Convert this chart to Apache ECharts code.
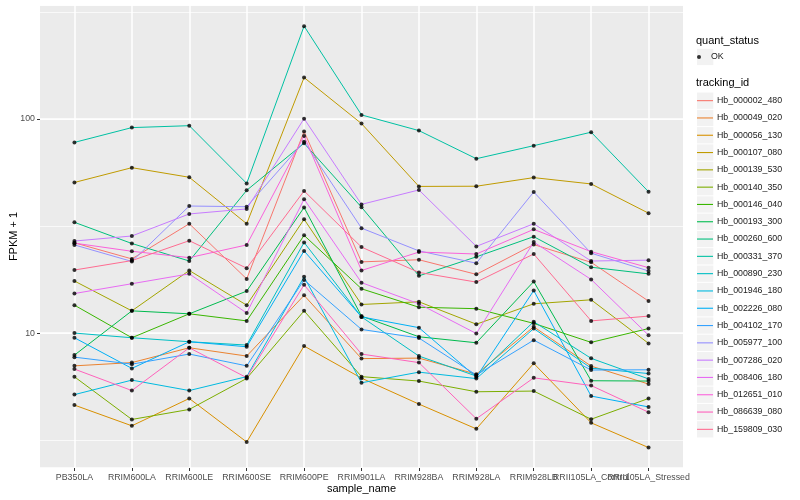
<!DOCTYPE html>
<html><head><meta charset="utf-8">
<script src="https://cdn.jsdelivr.net/npm/echarts@6/dist/echarts.min.js"></script>
<style>html,body{margin:0;padding:0;background:#fff}#c{width:800px;height:500px}</style>
</head><body><div id="c"></div><script>
const categories = ["PB350LA","RRIM600LA","RRIM600LE","RRIM600SE","RRIM600PE","RRIM901LA","RRIM928BA","RRIM928LA","RRIM928LB","RRII105LA_Control","RRII105LA_Stressed"];
const trackingIds = ["Hb_000002_480","Hb_000049_020","Hb_000056_130","Hb_000107_080","Hb_000139_530","Hb_000140_350","Hb_000146_040","Hb_000193_300","Hb_000260_600","Hb_000331_370","Hb_000890_230","Hb_001946_180","Hb_002226_080","Hb_004102_170","Hb_005977_100","Hb_007286_020","Hb_008406_180","Hb_012651_010","Hb_086639_080","Hb_159809_030"];
const colors = ["#F8766D","#EA8331","#D89000","#C09B00","#A3A500","#7CAE00","#39B600","#00BB4E","#00BF7D","#00C1A3","#00BFC4","#00BAE0","#00B0F6","#35A2FF","#9590FF","#C77CFF","#E76BF3","#FA62DB","#FF62BC","#FF6C91"];

const hb_000002_480 = [26.4, 22.2, 32.4, 17.9, 87.4, 21.5, 22.0, 18.8, 25.9, 21.4, 14.1];
const hb_000049_020 = [7.03, 7.28, 8.54, 7.81, 15.0, 7.60, 7.64, 6.43, 10.7, 7.01, 5.78];
const hb_000056_130 = [4.61, 3.69, 4.95, 3.10, 8.70, 6.16, 4.66, 3.57, 7.22, 3.81, 2.92];
const hb_000107_080 = [50.5, 59.2, 53.4, 32.4, 156.0, 95.1, 48.4, 48.5, 53.2, 49.7, 36.3];
const hb_000139_530 = [17.5, 12.7, 19.6, 13.5, 34.0, 13.6, 14.0, 11.0, 13.7, 14.3, 8.95];
const hb_000140_350 = [6.25, 3.95, 4.40, 6.14, 12.7, 6.26, 5.97, 5.32, 5.36, 3.96, 4.95];
const hb_000146_040 = [13.5, 9.51, 12.3, 11.4, 28.6, 16.1, 13.2, 13.0, 11.1, 9.05, 10.5];
const hb_000193_300 = [7.89, 12.7, 12.3, 15.7, 38.6, 12.0, 9.61, 9.01, 17.4, 5.99, 5.97];
const hb_000260_600 = [32.9, 26.2, 21.7, 46.4, 77.0, 38.7, 18.5, 22.7, 28.2, 20.3, 18.9];
const hb_000331_370 = [77.7, 91.1, 93.0, 50.0, 271.2, 104.4, 88.2, 65.2, 75.0, 86.7, 45.7];
const hb_000890_230 = [10.0, 9.51, 9.11, 8.79, 26.5, 11.9, 7.81, 6.30, 11.3, 7.62, 6.11];
const hb_001946_180 = [5.16, 6.03, 5.39, 6.26, 18.3, 5.86, 6.57, 6.13, 10.5, 6.86, 6.47];
const hb_002226_080 = [9.51, 6.84, 9.11, 8.63, 24.2, 11.9, 10.6, 6.23, 15.8, 5.08, 4.52];
const hb_004102_170 = [7.72, 7.16, 7.98, 7.03, 17.7, 10.4, 9.48, 6.37, 9.27, 6.72, 6.74];
const hb_005977_100 = [25.8, 21.6, 39.2, 38.9, 78.3, 30.9, 24.2, 21.2, 45.6, 23.6, 19.5];
const hb_007286_020 = [26.9, 28.4, 36.0, 38.0, 100.3, 39.9, 46.6, 25.4, 32.4, 21.7, 21.9];
const hb_008406_180 = [15.3, 17.0, 18.9, 12.4, 42.2, 17.2, 13.7, 9.95, 26.6, 17.8, 9.77];
const hb_012651_010 = [26.3, 24.1, 22.5, 25.8, 83.3, 19.6, 23.9, 23.4, 30.5, 24.0, 20.2];
const hb_086639_080 = [6.79, 5.39, 8.54, 6.19, 16.8, 7.98, 7.28, 3.98, 6.18, 5.69, 4.27];
const hb_159809_030 = [19.7, 21.8, 27.0, 20.1, 46.1, 25.2, 19.2, 17.3, 23.4, 11.4, 12.0];

const seriesValues = [hb_000002_480, hb_000049_020, hb_000056_130, hb_000107_080, hb_000139_530, hb_000140_350, hb_000146_040, hb_000193_300, hb_000260_600, hb_000331_370, hb_000890_230, hb_001946_180, hb_002226_080, hb_004102_170, hb_005977_100, hb_007286_020, hb_008406_180, hb_012651_010, hb_086639_080, hb_159809_030];

const FONT = "'Liberation Sans', Arial, Helvetica, sans-serif";
const Y_MIN = 2.344, Y_MAX = 340.4;
const catIdx = categories.map((c, i) => i);
const evenIdx = catIdx.filter(i => i % 2 === 0);
const oddIdx = catIdx.filter(i => i % 2 === 1);

const chart = echarts.init(document.getElementById('c'), null, {renderer: 'canvas'});

const lineSeries = trackingIds.map((id, k) => ({
  name: id, type: 'line', xAxisIndex: 0, yAxisIndex: 0,
  data: seriesValues[k].map((v, i) => [catIdx[i], v]),
  showSymbol: false, symbol: 'none',
  lineStyle: {width: 1, color: colors[k]}, itemStyle: {color: colors[k]},
  emphasis: {disabled: true}, silent: true, z: 2, animation: false
}));
const okPoints = [];
seriesValues.forEach(vals => vals.forEach((v, i) => okPoints.push([catIdx[i], v])));

const keyRects = [];
keyRects.push({type: 'rect', shape: {x: 697, y: 48.8, width: 16.3, height: 16.3}, style: {fill: '#F2F2F2'}, silent: true});
trackingIds.forEach((id, k) => {
  const cy = 100.65 + 17.3 * k;
  keyRects.push({type: 'rect', shape: {x: 697, y: cy - 8.15, width: 16.3, height: 16.3}, style: {fill: '#F2F2F2'}, silent: true});
});

const labelStyle = {margin: 5, fontSize: 8.8, color: '#4D4D4D', fontFamily: FONT, hideOverlap: false};
const catFormatter = v => categories[Math.round(v)] || '';

chart.setOption({
  animation: false,
  backgroundColor: '#ffffff',
  textStyle: {fontFamily: FONT},
  grid: {left: 40, right: 117, top: 5, bottom: 32, show: true, backgroundColor: '#EBEBEB', borderWidth: 0,
         containLabel: false, outerBoundsMode: 'none'},
  title: [
    {text: 'quant_status', left: 696, top: 35, textStyle: {fontSize: 11, fontWeight: 'normal', color: '#000', fontFamily: FONT}, padding: 0},
    {text: 'tracking_id', left: 696, top: 77, textStyle: {fontSize: 11, fontWeight: 'normal', color: '#000', fontFamily: FONT}, padding: 0}
  ],
  graphic: {elements: keyRects},
  legend: [
    {data: ['OK'], orient: 'vertical', left: 697, top: 48.8, padding: 0, itemWidth: 16, itemHeight: 4, itemGap: 0,
     icon: 'circle', symbolKeepAspect: true, selectedMode: false,
     textStyle: {fontSize: 8.8, color: '#1a1a1a', fontFamily: FONT, lineHeight: 16.3, padding: [0, 0, 0, -1]}},
    {data: trackingIds, orient: 'vertical', left: 697, top: 92, padding: 0, itemWidth: 16, itemHeight: 17.3, itemGap: 0,
     icon: 'path://M0,0H16V1.1H0Z', symbolKeepAspect: true, selectedMode: false,
     textStyle: {fontSize: 8.8, color: '#1a1a1a', fontFamily: FONT, lineHeight: 17.3, padding: [0, 0, 0, -1]}}
  ],
  xAxis: [
    {
      type: 'value', min: -0.6, max: 10.6, position: 'bottom',
      name: 'sample_name', nameLocation: 'middle', nameGap: 15, nameMoveOverlap: false,
      nameTextStyle: {fontSize: 11, color: '#000', fontFamily: FONT, verticalAlign: 'top'},
      axisLine: {show: false, onZero: false},
      axisTick: {show: true, length: 3, lineStyle: {color: '#333333', width: 1}, customValues: catIdx},
      axisLabel: Object.assign({show: true, customValues: evenIdx, showMinLabel: true, showMaxLabel: true,
        formatter: catFormatter}, labelStyle),
      splitLine: {show: true, lineStyle: {color: '#ffffff', width: 1.5}}
    },
    {
      type: 'value', min: -0.6, max: 10.6, position: 'bottom', gridIndex: 0,
      axisLine: {show: false, onZero: false},
      axisTick: {show: false, customValues: oddIdx},
      axisLabel: Object.assign({show: true, customValues: oddIdx, showMinLabel: true, showMaxLabel: true,
        formatter: catFormatter}, labelStyle),
      splitLine: {show: false}
    }
  ],
  yAxis: [
    {
      type: 'log', logBase: 10, min: Y_MIN, max: Y_MAX, position: 'left',
      name: 'FPKM + 1', nameLocation: 'middle', nameGap: 21, nameRotate: 90, nameMoveOverlap: false,
      nameTextStyle: {fontSize: 11, color: '#000', fontFamily: FONT},
      axisLine: {show: false, onZero: false},
      axisTick: {show: true, length: 3, lineStyle: {color: '#333333', width: 1}},
      axisLabel: Object.assign({show: true, showMinLabel: false, showMaxLabel: false}, labelStyle),
      splitLine: {show: true, lineStyle: {color: '#ffffff', width: 1.5}}
    },
    {
      type: 'log', logBase: Math.sqrt(10), min: Y_MIN, max: Y_MAX, position: 'left',
      axisLine: {show: false, onZero: false}, axisTick: {show: false}, axisLabel: {show: false},
      splitLine: {show: true, lineStyle: {color: '#ffffff', width: 0.7}}
    }
  ],
  series: lineSeries.concat([{
    name: 'OK', type: 'scatter', xAxisIndex: 0, yAxisIndex: 0, data: okPoints,
    symbol: 'circle', symbolSize: 4, itemStyle: {color: '#000000'}, z: 5, silent: true,
    emphasis: {disabled: true}, animation: false
  }])
});
</script></body></html>
